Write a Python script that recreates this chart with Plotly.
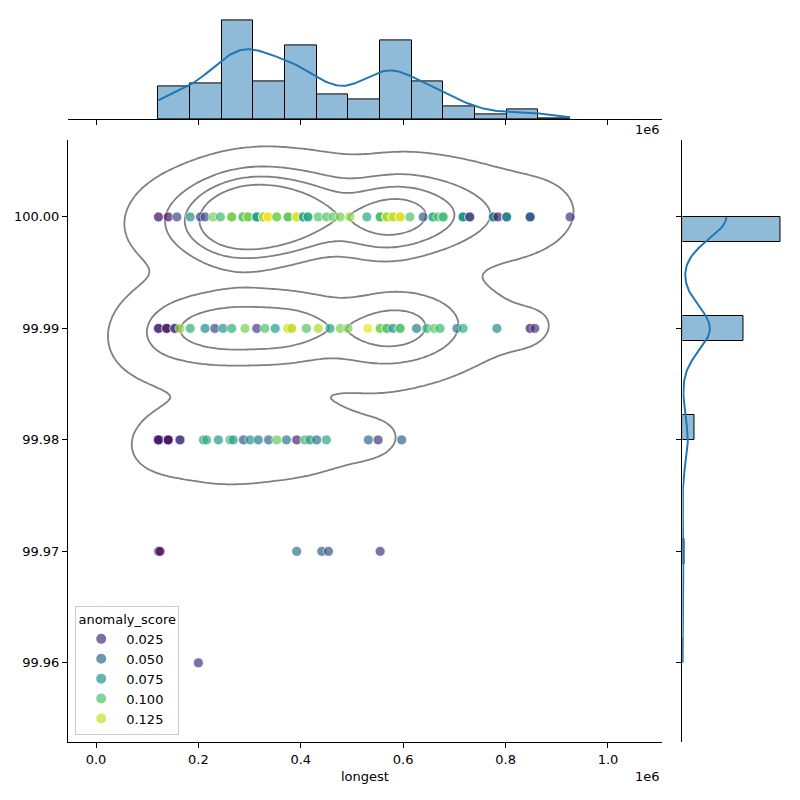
import numpy as np
import plotly.graph_objects as go
from plotly.colors import sample_colorscale

# ---------------- data ----------------
y_levels = [100.00, 99.99, 99.98, 99.97, 99.96]

# "longest" values (units of 1e6), anomaly scores and multiplicity (overplotted rows) per y level
longest_100 = [0.122, 0.141, 0.158, 0.184, 0.204, 0.213, 0.229, 0.243, 0.265, 0.287, 0.297, 0.314,
               0.327, 0.336, 0.353, 0.375, 0.392, 0.405, 0.414, 0.434, 0.450, 0.463, 0.477, 0.496,
               0.529, 0.555, 0.568, 0.580, 0.594, 0.613, 0.639, 0.658, 0.668, 0.678, 0.717, 0.730,
               0.776, 0.785, 0.802, 0.848, 0.926]
score_100 = [0.008, 0.012, 0.035, 0.070, 0.028, 0.040, 0.110, 0.095, 0.110, 0.105, 0.110, 0.080,
             0.120, 0.135, 0.110, 0.105, 0.130, 0.080, 0.085, 0.100, 0.100, 0.105, 0.110, 0.115,
             0.085, 0.100, 0.120, 0.125, 0.130, 0.100, 0.045, 0.090, 0.100, 0.095, 0.075, 0.030,
             0.065, 0.015, 0.065, 0.045, 0.025]
mult_100 = [1, 1, 1, 1, 1, 1, 1, 1, 3, 3, 3, 3,
            3, 3, 2, 3, 3, 2, 2, 1, 1, 1, 1, 1,
            1, 4, 4, 4, 3, 1, 1, 2, 1, 2, 4, 2,
            3, 1, 3, 4, 1]

longest_9999 = [0.122, 0.138, 0.154, 0.164, 0.184, 0.213, 0.232, 0.248, 0.265, 0.291, 0.314, 0.330,
                0.350, 0.375, 0.382, 0.411, 0.434, 0.457, 0.477, 0.492, 0.531, 0.555, 0.568, 0.580,
                0.594, 0.626, 0.646, 0.660, 0.672, 0.705, 0.717, 0.783, 0.848, 0.857]
score_9999 = [0.020, 0.012, 0.025, 0.115, 0.090, 0.070, 0.035, 0.075, 0.090, 0.110, 0.030, 0.100,
              0.080, 0.130, 0.125, 0.100, 0.120, 0.080, 0.110, 0.110, 0.133, 0.110, 0.100, 0.070,
              0.100, 0.060, 0.090, 0.105, 0.095, 0.060, 0.090, 0.070, 0.010, 0.028]
mult_9999 = [2, 2, 2, 1, 1, 1, 1, 1, 1, 1, 1, 1,
             1, 2, 2, 1, 1, 1, 1, 1, 1, 2, 2, 1,
             2, 1, 1, 1, 1, 1, 1, 1, 1, 1]

longest_9998 = [0.122, 0.141, 0.164, 0.210, 0.216, 0.239, 0.262, 0.268, 0.288, 0.301, 0.317,
                0.337, 0.353, 0.372, 0.392, 0.408, 0.418, 0.431, 0.450, 0.532, 0.551, 0.597]
score_9998 = [0.015, 0.012, 0.028, 0.080, 0.090, 0.075, 0.090, 0.080, 0.042, 0.075, 0.060,
              0.050, 0.105, 0.060, 0.020, 0.095, 0.075, 0.055, 0.085, 0.050, 0.027, 0.047]
mult_9998 = [4, 3, 2, 1, 1, 1, 1, 1, 1, 1, 1,
             1, 1, 1, 1, 1, 1, 1, 1, 1, 1, 1]

longest_9997 = [0.122, 0.125, 0.392, 0.441, 0.454, 0.555]
score_9997 = [0.020, 0.005, 0.055, 0.045, 0.040, 0.028]
mult_9997 = [1, 1, 1, 1, 1, 1]

longest_9996 = [0.200]
score_9996 = [0.027]
mult_9996 = [1]

# marginal histogram counts
longest_hist_counts = [37, 40, 112, 43, 84, 28, 22, 89, 43, 14, 6, 11, 1]
y_level_counts = [300, 187, 36, 6, 1]
n_y_bins = 18

legend_values = [0.025, 0.050, 0.075, 0.100, 0.125]
x_tick_vals = [0.0, 0.2, 0.4, 0.6, 0.8, 1.0]   # x 1e6
x_tick_text = ["0.0", "0.2", "0.4", "0.6", "0.8", "1.0"]
y_tick_vals = [99.96, 99.97, 99.98, 99.99, 100.00]
y_tick_text = ["99.96", "99.97", "99.98", "99.99", "100.00"]
score_min, score_max = 0.005, 0.137

# ---------------- assemble ----------------
rows_x = [longest_100, longest_9999, longest_9998, longest_9997, longest_9996]
rows_s = [score_100, score_9999, score_9998, score_9997, score_9996]
rows_m = [mult_100, mult_9999, mult_9998, mult_9997, mult_9996]
for a, b, c in zip(rows_x, rows_s, rows_m):
    assert len(a) == len(b) == len(c)
X = np.concatenate([np.repeat(np.array(r, float), m) for r, m in zip(rows_x, rows_m)])
S = np.concatenate([np.repeat(np.array(r, float), m) for r, m in zip(rows_s, rows_m)])
Y = np.concatenate([np.full(int(np.sum(m)), lv) for m, lv in zip(rows_m, y_levels)])
R = np.concatenate([np.full(int(np.sum(m)), i) for i, m in enumerate(rows_m)])

nbx = len(longest_hist_counts)
xedges = np.linspace(X.min(), X.max(), nbx + 1)
xbw = xedges[1] - xedges[0]
xcent = (xedges[:-1] + xedges[1:]) / 2
xbin = np.clip(np.floor((X - xedges[0]) / xbw + 1e-9).astype(int), 0, nbx - 1)

# weights of the rows so that both marginals match the histograms (raking)
w = np.ones(len(X))
for _ in range(300):
    for r in range(len(y_levels)):
        m = R == r
        w[m] *= y_level_counts[r] / w[m].sum()
    for b in range(nbx):
        m = xbin == b
        s = w[m].sum()
        if s > 0:
            w[m] *= longest_hist_counts[b] / s
N = float(sum(y_level_counts))

# ---------------- 2D KDE (scott) ----------------
Yd = Y - 100.0
cov = np.cov(np.vstack([X, Yd]), aweights=w) * N ** (-2.0 / 6.0)
bwx, bwy = np.sqrt(np.diag(cov))
gx = np.linspace(X.min() - 3 * bwx, X.max() + 3 * bwx, 200)
gy = np.linspace(Yd.min() - 3 * bwy, Yd.max() + 3 * bwy, 200)
inv = np.linalg.inv(cov)
dx = gx[None, :, None] - X[None, None, :]
dy = gy[:, None, None] - Yd[None, None, :]
q = inv[0, 0] * dx ** 2 + 2 * inv[0, 1] * dx * dy + inv[1, 1] * dy ** 2
dens = (w * np.exp(-0.5 * q)).sum(axis=2) / (w.sum() * 2 * np.pi * np.sqrt(np.linalg.det(cov)))

iso = np.linspace(0.05, 1, 5)
sv = np.sort(dens.ravel())[::-1]
cum = np.cumsum(sv) / sv.sum()
lev = np.take(sv, np.searchsorted(cum, 1 - iso), mode="clip")[:-1]

# ---------------- marginal KDEs ----------------
def kde1(data, weights, grid):
    var = np.cov(data, aweights=weights)
    h = np.sqrt(var) * N ** (-0.2)
    z = (grid[:, None] - data[None, :]) / h
    return (weights * np.exp(-0.5 * z ** 2)).sum(1) / (weights.sum() * h * np.sqrt(2 * np.pi))

kx = np.linspace(X.min(), X.max(), 200)
kx_y = kde1(X, w, kx) * N * xbw

ylo, yhi = min(y_levels), max(y_levels)
ybw = (yhi - ylo) / n_y_bins
ycent = ylo + ybw * (np.arange(n_y_bins) + 0.5)
ybin = np.clip(np.floor((np.array(y_levels) - ylo) / ybw + 1e-6).astype(int), 0, n_y_bins - 1)
ycounts = np.zeros(n_y_bins)
for b, c in zip(ybin, y_level_counts):
    ycounts[b] += c
ky = np.linspace(Yd.min(), Yd.max(), 200)
ky_x = kde1(Yd, w, ky) * N * ybw

# ---------------- figure ----------------
FONT = dict(family="DejaVu Sans", size=13, color="black")
fig = go.Figure()

fig.add_trace(go.Scatter(
    x=X * 1e6, y=Y, mode="markers", showlegend=False, hoverinfo="skip",
    marker=dict(size=10, color=S, colorscale="Viridis", cmin=score_min, cmax=score_max,
                opacity=0.7, line=dict(color="white", width=0.8)),
    xaxis="x", yaxis="y"))

for L in lev:
    fig.add_trace(go.Contour(
        x=gx * 1e6, y=gy + 100.0, z=dens, showscale=False, hoverinfo="skip",
        autocontour=False, contours=dict(start=L, end=L, size=L, coloring="lines"),
        colorscale=[[0, "#808080"], [1, "#808080"]], line=dict(width=1.8),
        xaxis="x", yaxis="y"))

leg_cols = sample_colorscale("Viridis", [(v - score_min) / (score_max - score_min) for v in legend_values])
for v, c in zip(legend_values, leg_cols):
    fig.add_trace(go.Scatter(
        x=[None], y=[None], mode="markers", name=f"{v:.3f}", showlegend=True,
        marker=dict(size=10, color=c, opacity=0.7, line=dict(color="white", width=0.8)),
        xaxis="x", yaxis="y"))

cnt = np.array(longest_hist_counts, float)
fig.add_trace(go.Bar(
    x=xcent * 1e6, y=cnt, width=xbw * 1e6, showlegend=False, hoverinfo="skip",
    marker=dict(color="rgba(31,119,180,0.5)", line=dict(color="black", width=1)),
    xaxis="x2", yaxis="y2"))
fig.add_trace(go.Scatter(x=kx * 1e6, y=kx_y, mode="lines", showlegend=False, hoverinfo="skip",
                         line=dict(color="#1f77b4", width=2), xaxis="x2", yaxis="y2"))

nz = ycounts > 0
fig.add_trace(go.Bar(
    y=ycent[nz], x=ycounts[nz], width=ybw, orientation="h", showlegend=False, hoverinfo="skip",
    marker=dict(color="rgba(31,119,180,0.5)", line=dict(color="black", width=1)),
    xaxis="x3", yaxis="y3"))
fig.add_trace(go.Scatter(x=ky_x, y=ky + 100.0, mode="lines", showlegend=False, hoverinfo="skip",
                         line=dict(color="#1f77b4", width=2), xaxis="x3", yaxis="y3"))

xr = [-0.0547e6, 1.1055e6]
yr = [99.9529, 100.0069]
axis_common = dict(showgrid=False, zeroline=False, linecolor="black", linewidth=1,
                   ticks="outside", ticklen=5, tickwidth=1, tickcolor="black", tickfont=FONT)

fig.update_layout(
    width=800, height=800, margin=dict(l=0, r=0, t=0, b=0),
    paper_bgcolor="white", plot_bgcolor="white", font=FONT, bargap=0,
    xaxis=dict(domain=[0.085, 0.8275], range=xr, anchor="y", showline=True,
               tickvals=[v * 1e6 for v in x_tick_vals], ticktext=x_tick_text, **axis_common),
    yaxis=dict(domain=[0.0725, 0.825], range=yr, anchor="x", showline=True,
               tickvals=y_tick_vals, ticktext=y_tick_text, **axis_common),
    xaxis2=dict(domain=[0.085, 0.8275], range=xr, anchor="y2", showline=True,
                tickvals=[v * 1e6 for v in x_tick_vals], showticklabels=False, **axis_common),
    yaxis2=dict(domain=[0.851, 0.98075], range=[0, max(cnt.max(), kx_y.max()) * 1.05],
                anchor="x2", visible=False),
    xaxis3=dict(domain=[0.8531, 0.9813], range=[0, max(ycounts.max(), ky_x.max()) * 1.05],
                anchor="y3", visible=False),
    yaxis3=dict(domain=[0.0725, 0.825], range=yr, anchor="x3", showline=True,
                tickvals=y_tick_vals, showticklabels=False, **axis_common),
    legend=dict(title=dict(text="anomaly_score", font=FONT, side="top center"),
                x=0.094, y=0.2425, xanchor="left", yanchor="top",
                bgcolor="rgba(255,255,255,0.8)", bordercolor="#cccccc", borderwidth=1,
                font=FONT, itemsizing="constant", tracegroupgap=0, itemwidth=40),
    annotations=[
        dict(text="longest", x=0.456, y=1 - 776 / 800, xref="paper", yref="paper",
             showarrow=False, font=FONT, xanchor="center", yanchor="middle"),
        dict(text="1e6", x=0.8275, y=1 - 776 / 800, xref="paper", yref="paper",
             showarrow=False, font=FONT, xanchor="right", yanchor="middle"),
        dict(text="1e6", x=0.8275, y=1 - 130 / 800, xref="paper", yref="paper",
             showarrow=False, font=FONT, xanchor="right", yanchor="middle"),
    ],
)

fig.write_html("out.html")
